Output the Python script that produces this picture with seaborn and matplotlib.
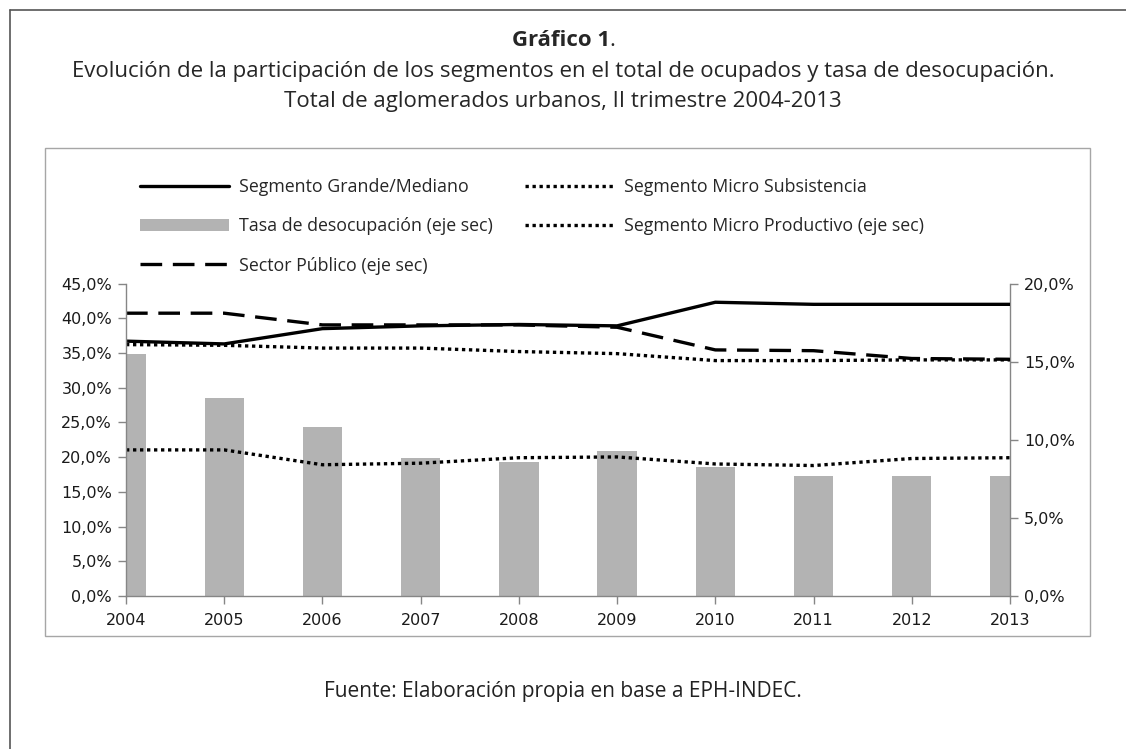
import numpy as np
import pandas as pd
import matplotlib.pyplot as plt
import seaborn as sns
from matplotlib.lines import Line2D
from matplotlib.patches import Patch, Rectangle
from matplotlib.ticker import FuncFormatter, MultipleLocator

# data (% values)
years = [2004, 2005, 2006, 2007, 2008, 2009, 2010, 2011, 2012, 2013]
grande_mediano = [36.7, 36.3, 38.5, 38.9, 39.1, 38.9, 42.3, 42.0, 42.0, 42.0]        # left axis
micro_subsistencia = [36.2, 36.1, 35.7, 35.7, 35.2, 34.9, 33.9, 33.9, 34.0, 34.0]   # left axis
tasa_desocupacion = [15.5, 12.7, 10.8, 8.85, 8.55, 9.25, 8.25, 7.7, 7.7, 7.7]       # right axis
micro_productivo = [9.35, 9.35, 8.4, 8.5, 8.85, 8.9, 8.45, 8.35, 8.8, 8.85]        # right axis
sector_publico = [18.1, 18.1, 17.35, 17.35, 17.35, 17.2, 15.75, 15.7, 15.2, 15.15]  # right axis

df = pd.DataFrame({"year": years, "gm": grande_mediano, "ms": micro_subsistencia,
                   "tasa": tasa_desocupacion, "mp": micro_productivo, "sp": sector_publico})

sns.set_style("white")
plt.rcParams['font.family'] = ['DejaVu Sans']

fig = plt.figure(figsize=(11.26, 7.49), dpi=100)
W, H = 1126, 749

# right axis (bars) below, left axis on top
ax = fig.add_axes([126 / W, 1 - 596 / H, (1010 - 126) / W, (596 - 283.5) / H])
ax2 = ax.twinx()
ax.set_zorder(ax2.get_zorder() + 1)
ax.patch.set_visible(False)

sns.barplot(data=df, x="year", y="tasa", ax=ax2, native_scale=True,
            color="#b3b3b3", saturation=1, width=0.4, edgecolor="none")

dot = (1.0, 1.1)
dash = (6.5, 3.2)
sns.lineplot(data=df, x="year", y="mp", ax=ax2, color="black", lw=2.4)
ax2.lines[-1].set_dashes(dot)
ax2.lines[-1].set_dash_capstyle("butt")
sns.lineplot(data=df, x="year", y="sp", ax=ax2, color="black", lw=2.4)
ax2.lines[-1].set_dashes(dash)

sns.lineplot(data=df, x="year", y="gm", ax=ax, color="black", lw=2.4)
sns.lineplot(data=df, x="year", y="ms", ax=ax, color="black", lw=2.4)
ax.lines[-1].set_dashes(dot)

pct = FuncFormatter(lambda v, p: f"{v:.1f}".replace(".", ",") + "%")
ax.set_ylim(0, 45)
ax.yaxis.set_major_locator(MultipleLocator(5))
ax.yaxis.set_major_formatter(pct)
ax2.set_ylim(0, 20)
ax2.yaxis.set_major_locator(MultipleLocator(5))
ax2.yaxis.set_major_formatter(pct)
ax.set_xlim(2004, 2013)
ax.set_xticks(years)
ax.set_xticklabels([str(y) for y in years])
ax.set_xlabel("")
ax.set_ylabel("")
ax2.set_ylabel("")
ax2.set_xlabel("")

spine_c = "#868686"
for a in (ax, ax2):
    for s in a.spines.values():
        s.set_visible(False)
ax.spines["left"].set_visible(True)
ax.spines["bottom"].set_visible(True)
ax2.spines["right"].set_visible(True)
for s in ("left", "bottom"):
    ax.spines[s].set_color(spine_c)
    ax.spines[s].set_linewidth(1.0)
ax2.spines["right"].set_color(spine_c)
ax2.spines["right"].set_linewidth(1.0)

ax.tick_params(axis="both", which="major", direction="out", length=6, width=1,
               color=spine_c, labelsize=11.5, labelcolor="#1a1a1a", pad=4,
               left=True, bottom=True)
ax.tick_params(axis="x", pad=6)
ax2.tick_params(axis="y", direction="out", length=6, width=1, color=spine_c,
                labelsize=11.5, labelcolor="#1a1a1a", right=True, pad=4)

# legend
handles = [
    Line2D([], [], color="black", lw=2.4),
    Patch(facecolor="#b3b3b3", edgecolor="none"),
    Line2D([], [], color="black", lw=2.4, dashes=dash),
    Line2D([], [], color="black", lw=2.4, dashes=dot, dash_capstyle="butt"),
    Line2D([], [], color="black", lw=2.4, dashes=dot, dash_capstyle="butt"),
]
labels = ["Segmento Grande/Mediano", "Tasa de desocupación (eje sec)",
          "Sector Público (eje sec)", "Segmento Micro Subsistencia",
          "Segmento Micro Productivo (eje sec)"]
fig.legend(handles, labels, ncol=2, loc="upper left",
           bbox_to_anchor=(140 / W, 1 - 178 / H), frameon=False,
           prop={"family": "Open Sans", "size": 12.8}, handlelength=5.0,
           handletextpad=0.55, columnspacing=1.85, labelspacing=1.2,
           borderpad=0, borderaxespad=0)

# titles
tf = ["Open Sans"]
fs = 16
t1 = fig.text(0.5 - 0.002, 1 - 40 / H, "Gráfico 1", ha="center", va="center",
              fontsize=fs, weight="bold", family=tf)
fig.add_artist(plt.Annotation(".", xy=(1, 0), xycoords=t1, va="bottom", ha="left",
                              fontsize=fs, family=tf))
fig.text(0.5, 1 - 72 / H,
         "Evolución de la participación de los segmentos en el total de ocupados y tasa de desocupación.",
         ha="center", va="center", fontsize=fs, family=tf)
fig.text(0.5, 1 - 101 / H, "Total de aglomerados urbanos, II trimestre 2004-2013",
         ha="center", va="center", fontsize=fs, family=tf)
fig.text(0.5, 1 - 692 / H, "Fuente: Elaboración propia en base a EPH-INDEC.",
         ha="center", va="center", fontsize=15, family=tf, color="#222222")

# frames
fig.add_artist(Line2D([10 / W, 10 / W], [0, 1 - 10 / H], color="#555555", lw=1.2))
fig.add_artist(Line2D([10 / W, 1], [1 - 10 / H, 1 - 10 / H], color="#555555", lw=1.2))
fig.add_artist(Rectangle((45 / W, 1 - 636 / H), (1090 - 45) / W, (636 - 148) / H,
                         fill=False, edgecolor="#a6a6a6", lw=1.0))

fig.savefig("out.png", dpi=100, facecolor="white")
